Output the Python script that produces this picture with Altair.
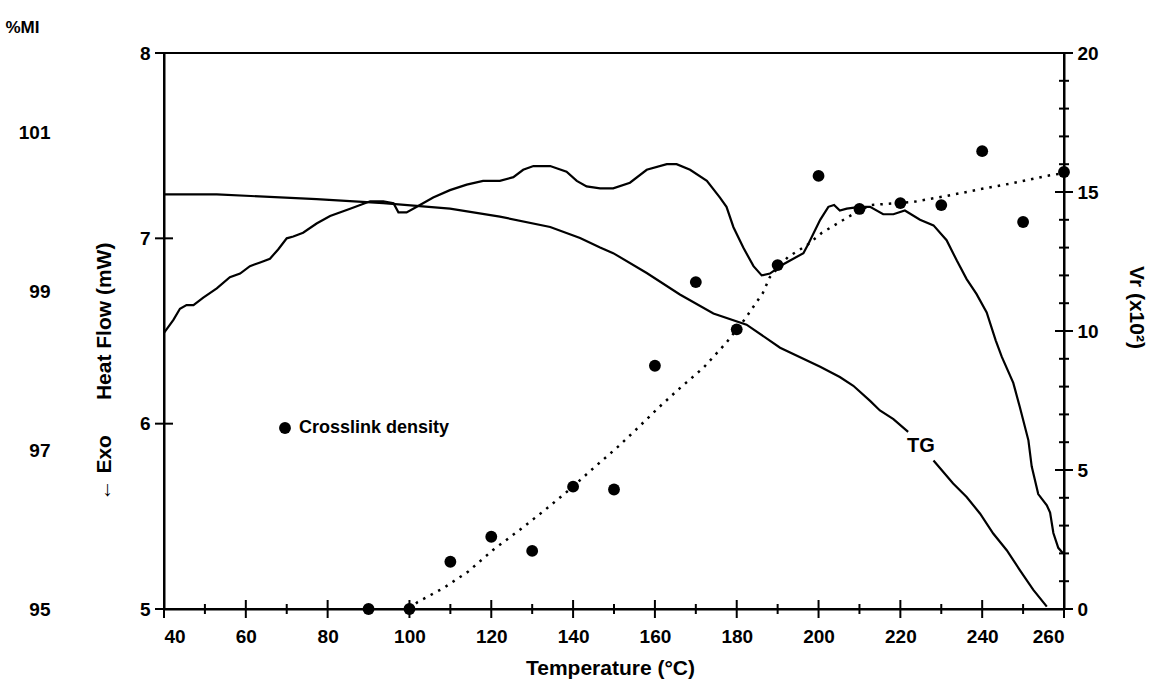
import altair as alt
import pandas as pd

# ---------------- data ----------------
# DSC heat flow curve (Temperature °C, Heat Flow mW)
dsc_T = [40, 42.3, 43.9, 45.5, 47.2, 49.6, 52.9, 56.1, 58.6, 61.0, 63.5, 65.9, 67.9,
         70.0, 71.6, 74.0, 77.3, 80.6, 85.5, 90.4, 93.6, 96.1, 97.3, 99.3, 101.8,
         105.8, 109.9, 114.0, 118.0, 122.1, 125.4, 127.8, 130.3, 134.4, 138.4, 140.9,
         143.3, 146.6, 149.8, 153.9, 158.0, 162.9, 165.3, 168.6, 172.7, 175.9, 177.5,
         179.2, 181.6, 184.1, 186.1, 188.1, 191.4, 196.3, 197.5, 200.4, 202.4, 203.8,
         205.2, 206.9, 210.1, 212.6, 215.8, 218.3, 221.1, 224.8, 228.1, 231.3, 233.8,
         236.2, 238.6, 241.1, 243.3, 244.8, 247.6, 249.2, 251.3, 252.1, 253.7, 255.8,
         256.6, 257.4, 258.6, 259.8]
dsc_HF = [6.49, 6.56, 6.62, 6.64, 6.64, 6.68, 6.73, 6.79, 6.81, 6.85, 6.87, 6.89, 6.94,
          7.00, 7.01, 7.03, 7.08, 7.12, 7.16, 7.20, 7.20, 7.19, 7.14, 7.14, 7.17,
          7.22, 7.26, 7.29, 7.31, 7.31, 7.33, 7.37, 7.39, 7.39, 7.36, 7.31,
          7.28, 7.27, 7.27, 7.30, 7.37, 7.40, 7.40, 7.37, 7.31, 7.22, 7.17,
          7.06, 6.95, 6.85, 6.80, 6.81, 6.86, 6.92, 6.97, 7.10, 7.17, 7.18,
          7.15, 7.16, 7.17, 7.17, 7.13, 7.13, 7.15, 7.10, 7.07, 6.99, 6.88,
          6.78, 6.70, 6.60, 6.45, 6.36, 6.22, 6.09, 5.91, 5.77, 5.62, 5.56,
          5.52, 5.41, 5.33, 5.30]

# TG curve (%MI), broken where the "TG" label sits
tg1_T = [40, 52.9, 77.3, 93.6, 109.9, 122.1, 134.4, 141.7, 146.6, 149.8, 158.0, 166.1,
         174.3, 182.4, 190.6, 200.4, 205.2, 208.5, 212.6, 215.0, 218.3, 221.9]
tg1_MI = [100.22, 100.22, 100.16, 100.11, 100.04, 99.94, 99.81, 99.67, 99.55, 99.48,
          99.23, 98.96, 98.72, 98.58, 98.29, 98.05, 97.92, 97.81, 97.62, 97.50, 97.39, 97.23]
tg2_T = [228.1, 232.9, 236.2, 239.5, 242.7, 246.0, 249.2, 252.5, 255.8]
tg2_MI = [96.87, 96.58, 96.41, 96.20, 95.95, 95.74, 95.49, 95.24, 95.03]

# dotted fit of crosslink density (Vr x10^2)
fit_T = [100, 102, 108.4, 114.3, 120.4, 126.9, 133.1, 139, 145, 151, 155.3, 160.8, 165.6,
         171.8, 177.4, 182.0, 186.4, 188.1, 192.5, 197.2, 200.8, 205.2, 207.2, 212.6,
         223.1, 231.4, 239.5, 247.5, 255.8, 260]
fit_V = [0, 0.25, 0.76, 1.34, 2.12, 2.84, 3.56, 4.28, 5.07, 5.84, 6.44, 7.23, 7.88,
         8.67, 9.57, 10.43, 11.37, 11.94, 12.66, 13.09, 13.53, 13.92, 14.1, 14.53,
         14.64, 14.86, 15.1, 15.32, 15.58, 15.68]

# crosslink density points
pts_T = [90, 100, 110, 120, 130, 140, 150, 160, 170, 180, 190, 200, 210, 220, 230, 240, 250, 260]
pts_V = [0, 0, 1.70, 2.60, 2.09, 4.40, 4.30, 8.75, 11.76, 10.06, 12.37, 15.58, 14.39,
         14.60, 14.53, 16.47, 13.92, 15.72]

# axis ticks / labels
x_major = [40, 60, 80, 100, 120, 140, 160, 180, 200, 220, 240, 260]
x_minor = [50, 70, 90, 110, 130, 150, 170, 190, 210, 230, 250]
hf_ticks = [5, 6, 7, 8]
mi_labels = [95, 97, 99, 101]
vr_major = [0, 5, 10, 15, 20]
vr_minor = [v for v in range(1, 20) if v % 5 != 0]

legend_label = ["Crosslink density"]
tg_label_T, tg_label_MI = [225.0], [97.05]

# ---------------- frames ----------------
df_dsc = pd.DataFrame({"T": dsc_T, "HF": dsc_HF})
df_tg = pd.DataFrame({"T": tg1_T + tg2_T, "MI": tg1_MI + tg2_MI,
                      "seg": ["a"] * len(tg1_T) + ["b"] * len(tg2_T)})
df_fit = pd.DataFrame({"T": fit_T, "V": fit_V})
df_pts = pd.DataFrame({"T": pts_T, "V": pts_V})
df_xmaj = pd.DataFrame({"T": x_major})
df_xmin = pd.DataFrame({"T": x_minor})
df_hft = pd.DataFrame({"HF": hf_ticks})
df_vmaj = pd.DataFrame({"V": vr_major})
df_vmin = pd.DataFrame({"V": vr_minor})
df_leg = pd.DataFrame({"label": legend_label})
df_tgl = pd.DataFrame({"T": tg_label_T, "MI": tg_label_MI, "label": ["TG"]})

W, H = 900, 556
FONT = "Liberation Sans"
NB = "\u00a0"

x_scale = alt.Scale(domain=[40, 260], nice=False, zero=False)
x_axis = alt.Axis(orient="bottom", values=x_major, title="Temperature (°C)", ticks=False,
                  tickSize=0, labelPadding=18, format="d",
                  titleX=446, titleY=59, titleAlign="center", titleBaseline="middle")
hf_scale = alt.Scale(domain=[5, 8], nice=False, zero=False)
mi_scale = alt.Scale(domain=[95, 102], nice=False, zero=False)
vr_scale = alt.Scale(domain=[0, 20], nice=False, zero=False)


def X():
    return alt.X("T:Q", scale=x_scale, axis=x_axis)


hf_axis = alt.Axis(orient="left", values=hf_ticks, format="d", ticks=False, tickSize=0,
                   labelPadding=14, title="←" + NB + "Exo" + NB * 6 + "Heat Flow (mW)",
                   titleAngle=-90, titleX=-60, titleY=318, titleAlign="center",
                   titleBaseline="middle")
mi_axis = alt.Axis(orient="left", offset=100, values=mi_labels, format="d", domain=False,
                   ticks=False, tickSize=0, labelPadding=14, title="%MI", titleAngle=0,
                   titleX=-42, titleY=-26, titleAlign="center", titleBaseline="middle",
                   titleFontSize=17)
vr_axis = alt.Axis(orient="right", values=vr_major, format="d", ticks=False, tickSize=0,
                   labelPadding=13, title="Vr (x10²)", titleAngle=90, titleX=71,
                   titleY=254, titleAlign="center", titleBaseline="middle")

dsc = alt.Chart(df_dsc).mark_line(color="black", strokeWidth=2.2).encode(
    x=X(), y=alt.Y("HF:Q", scale=hf_scale, axis=hf_axis))
hf_tk = alt.Chart(df_hft).mark_rule(color="black", strokeWidth=2).encode(
    y=alt.Y("HF:Q", scale=hf_scale, axis=None), x=alt.value(-9), x2=alt.value(9))

tg = alt.Chart(df_tg).mark_line(color="black", strokeWidth=2.2).encode(
    x=X(), y=alt.Y("MI:Q", scale=mi_scale, axis=mi_axis), detail="seg:N")
tg_lbl = alt.Chart(df_tgl).mark_text(font=FONT, fontSize=20, fontWeight="bold",
                                     color="black", align="center", baseline="middle").encode(
    x=X(), y=alt.Y("MI:Q", scale=mi_scale, axis=None), text="label:N")

fit = alt.Chart(df_fit).mark_line(color="black", strokeWidth=2.5, strokeDash=[2.5, 6]).encode(
    x=X(), y=alt.Y("V:Q", scale=vr_scale, axis=vr_axis))
pts = alt.Chart(df_pts).mark_circle(color="black", size=140, opacity=1).encode(
    x=X(), y=alt.Y("V:Q", scale=vr_scale, axis=None))
v_maj = alt.Chart(df_vmaj).mark_rule(color="black", strokeWidth=2).encode(
    y=alt.Y("V:Q", scale=vr_scale, axis=None), x=alt.value(W - 9), x2=alt.value(W + 9))
v_min = alt.Chart(df_vmin).mark_rule(color="black", strokeWidth=2).encode(
    y=alt.Y("V:Q", scale=vr_scale, axis=None), x=alt.value(W - 5), x2=alt.value(W + 5))

x_maj = alt.Chart(df_xmaj).mark_rule(color="black", strokeWidth=2).encode(
    x=X(), y=alt.value(H - 9), y2=alt.value(H + 9))
x_min = alt.Chart(df_xmin).mark_rule(color="black", strokeWidth=2).encode(
    x=X(), y=alt.value(H - 5), y2=alt.value(H + 5))

leg_dot = alt.Chart(df_leg).mark_circle(color="black", size=140, opacity=1).encode(
    x=alt.value(121), y=alt.value(375))
leg_txt = alt.Chart(df_leg).mark_text(font=FONT, fontSize=18, fontWeight="bold", color="black",
                                      align="left", baseline="middle").encode(
    x=alt.value(135), y=alt.value(375), text="label:N")

chart = alt.layer(
    dsc, hf_tk, tg, tg_lbl, fit, pts, v_maj, v_min, x_maj, x_min, leg_dot, leg_txt
).resolve_scale(y="independent").properties(
    width=W, height=H,
    autosize=alt.AutoSizeParams(type="none"),
    padding={"left": 164, "top": 53, "right": 87, "bottom": 73},
    background="white",
).configure_view(
    stroke="black", strokeWidth=2
).configure_axis(
    grid=False, domainColor="black", domainWidth=2,
    labelFont=FONT, labelFontSize=19, labelFontWeight="bold", labelColor="black",
    titleFont=FONT, titleFontSize=21, titleFontWeight="bold", titleColor="black",
)

chart.save("out.html", embed_options={"renderer": "svg", "actions": False})
